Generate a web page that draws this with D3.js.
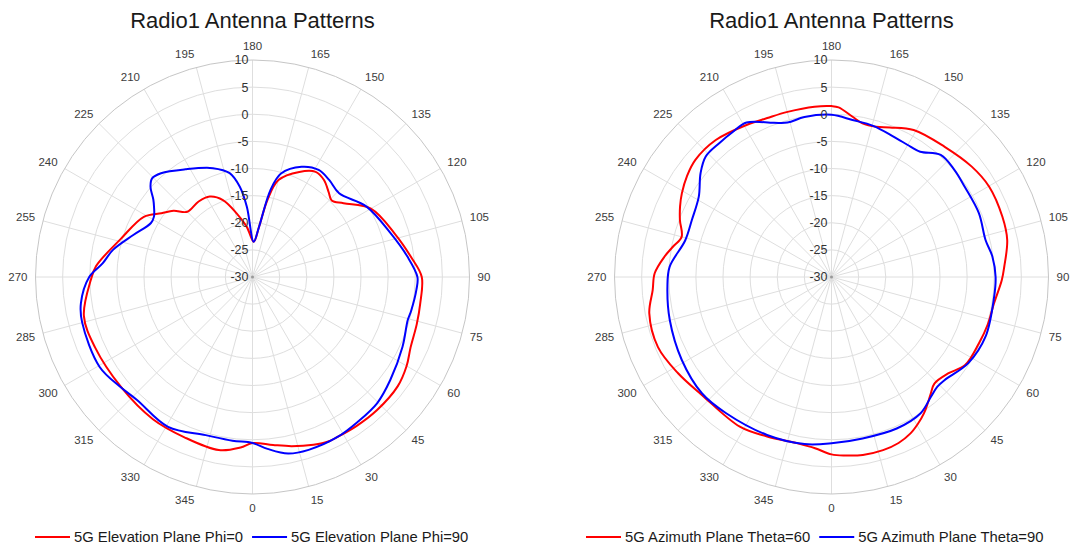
<!DOCTYPE html>
<html>
<head>
<meta charset="utf-8">
<script src="https://cdn.jsdelivr.net/npm/d3@7"></script>
<style>
  html, body { margin: 0; padding: 0; background: #ffffff; }
  svg { display: block; font-family: "Liberation Sans", Arial, sans-serif; }
</style>
</head>
<body>
<svg id="chart" width="1070" height="549"></svg>
<script>
// ---------------- DATA ----------------
const chartTitles = ["Radio1 Antenna Patterns", "Radio1 Antenna Patterns"];
const angleTicks = d3.range(0, 360, 15);
const radialTicks = [-30, -25, -20, -15, -10, -5, 0, 5, 10];

// Left chart: 5G Elevation Plane Phi=0 (red)
const elevPhi0Angles = [0, 7, 13, 20, 25, 28, 35, 43, 53, 60, 66, 74, 81, 90, 97, 107, 120, 129, 134, 138, 143.6, 149, 156, 165, 169, 172.6, 178, 186.5, 194, 201, 208, 215.5, 225, 230, 235, 241, 254, 266, 271, 283, 294, 310, 325, 337, 349, 356];
const elevPhi0Values = [0.6, 1.2, 2.0, 2.9, 3.4, 3.4, 3.5, 3.6, 3.5, 2.8, 1.9, 1.5, 1.3, 1.2, -0.5, -2.6, -4.8, -8.4, -9.7, -9.0, -7.8, -7.4, -8.8, -11.5, -15.5, -20.7, -23.5, -20.7, -17.9, -14.8, -13.2, -12.9, -13.0, -11.0, -9.5, -7.1, -4.7, -1.1, -0.2, 1.9, 1.8, 1.6, 2.0, 2.1, 2.5, 1.5];

// Left chart: 5G Elevation Plane Phi=90 (blue)
const elevPhi90Angles = [0, 5, 11.4, 18, 28, 36, 44.6, 53.3, 65, 74.5, 78, 85.5, 90, 97.5, 107.6, 121.7, 134, 141.7, 148.3, 156, 164.6, 168.3, 172.6, 178, 184.6, 188, 192.4, 200, 212, 221.4, 225.5, 228.5, 232, 234.5, 238.5, 242, 250.6, 259, 264.8, 270, 278.7, 285, 300.4, 309.7, 316.8, 330.6, 343.5, 353];
const elevPhi90Values = [0.6, 1.8, 3.2, 3.5, 3.4, 3.0, 2.7, 1.7, 0.5, -0.3, -0.1, 0.3, 0.4, -1.2, -3.3, -5.3, -7.8, -7.2, -6.8, -7.75, -10.2, -13.6, -20.7, -23.5, -17.0, -13.2, -10.4, -8.65, -6.6, -4.5, -4.05, -4.9, -6.8, -7.7, -8.7, -8.8, -6.7, -3.8, -2.25, 0.1, 2.0, 2.5, 2.7, 1.7, 1.1, 1.7, 0.4, 0.4];

// Right chart: 5G Azimuth Plane Theta=60 (red)
const azTheta60Angles = [0, 4.5, 10, 16.6, 22, 26.8, 30.5, 34.2, 37.5, 40.5, 44, 50.4, 56.6, 65.8, 73, 80.8, 89, 93.4, 101.9, 109.4, 119.8, 128.2, 139, 150.8, 158.7, 163.4, 168.6, 172.5, 177.6, 180, 185.7, 194.9, 202, 209.2, 220.2, 229.3, 235, 240.8, 245, 249.4, 255, 259, 263, 268.8, 274.2, 281.3, 292, 302, 312.4, 328.5, 338, 348.5, 354.5];
const azTheta60Values = [2.7, 3.0, 3.3, 3.3, 3.0, 2.3, 1.4, 0.35, -0.8, -1.8, -2.7, -2.1, -0.5, -0.2, 0.1, 0.35, 1.4, 1.9, 3.1, 3.4, 3.5, 2.9, 1.8, 1.05, -0.4, -1.1, -1.1, -0.2, 1.3, 1.5, 1.55, 1.5, 1.6, 2.1, 3.05, 3.1, 2.5, 1.6, 0.8, -0.15, -1.4, -0.3, 1.0, 2.6, 3.05, 4.25, 4.5, 3.4, 2.3, 2.35, 1.7, 1.3, 1.7];

// Right chart: 5G Azimuth Plane Theta=90 (blue)
const azTheta90Angles = [0, 10.9, 23.3, 33.2, 39.7, 44, 47.6, 57.8, 68.8, 83.1, 90, 97.2, 103.5, 113.4, 124, 131, 138.2, 144.7, 148.8, 156.2, 164.6, 172.4, 180, 189.6, 195.9, 200.5, 208.8, 214, 220, 226.3, 231.6, 238.8, 247.8, 256, 266.4, 273.4, 284.9, 299, 312, 322.3, 337.8, 350.8];
const azTheta90Values = [0.65, 0.3, 0.4, 0.0, -1.3, -1.9, -1.8, -0.2, 0.45, 0.2, 0.25, -0.1, -0.8, -0.4, -0.35, 0.05, 0.2, -1.7, -1.9, -1.7, -1.1, -0.8, -0.1, -0.1, -0.4, 0.35, 2.5, 2.35, 2.2, 2.1, 0.8, -1.4, -2.2, -2.2, -0.1, 0.3, 0.85, 1.55, 2.1, 1.75, 1.45, 1.2];

const leftLegend = ["5G Elevation Plane Phi=0", "5G Elevation Plane Phi=90"];
const rightLegend = ["5G Azimuth Plane Theta=60", "5G Azimuth Plane Theta=90"];
const seriesColors = ["#ff0000", "#0000ff"];

// ---------------- DRAW ----------------
const svg = d3.select("#chart");
const R = 217;
const rScale = d3.scaleLinear().domain([-30, 10]).range([0, R]);
const toRad = d => d * Math.PI / 180;

function zip(angles, values) {
  return angles.map((a, i) => ({ a, v: values[i] }));
}

function drawPolar(cx, cy, title, series, legendNames, legendX) {
  const g = svg.append("g").attr("transform", `translate(${cx},${cy})`);

  // title
  svg.append("text")
    .attr("x", cx).attr("y", 28)
    .attr("text-anchor", "middle")
    .attr("font-size", 22)
    .attr("fill", "#1a1a1a")
    .text(title);

  // spokes
  g.selectAll(".spoke").data(angleTicks).enter().append("line")
    .attr("x1", 0).attr("y1", 0)
    .attr("x2", d => R * Math.sin(toRad(d)))
    .attr("y2", d => R * Math.cos(toRad(d)))
    .attr("stroke", "#dedede").attr("stroke-width", 1);

  // rings
  g.selectAll(".ring").data(radialTicks.filter(t => t > -30)).enter().append("circle")
    .attr("r", d => rScale(d))
    .attr("fill", "none")
    .attr("stroke", d => d === 10 ? "#c6c6c6" : "#dedede")
    .attr("stroke-width", 1);

  // center dot
  g.append("circle").attr("r", 1.5).attr("fill", "#999");

  // series
  const line = d3.lineRadial()
    .angle(d => Math.PI - toRad(d.a))
    .radius(d => rScale(d.v))
    .curve(d3.curveCatmullRomClosed.alpha(0.5));

  series.forEach((s, i) => {
    g.append("path")
      .datum(s)
      .attr("d", line)
      .attr("fill", "none")
      .attr("stroke", seriesColors[i])
      .attr("stroke-width", 2);
  });

  // radial tick labels
  g.selectAll(".rlab").data(radialTicks).enter().append("text")
    .attr("x", -4)
    .attr("y", d => -rScale(d))
    .attr("dy", "0.35em")
    .attr("text-anchor", "end")
    .attr("font-size", 12.5)
    .attr("fill", "#333")
    .text(d => d);

  // angle labels
  g.selectAll(".alab").data(angleTicks).enter().append("text")
    .attr("x", d => (R + 8) * Math.sin(toRad(d)))
    .attr("y", d => (R + 8) * Math.cos(toRad(d)) + 6 * Math.cos(toRad(d)))
    .attr("dy", "0.35em")
    .attr("text-anchor", d => {
      const s = Math.sin(toRad(d));
      return s > 0.01 ? "start" : (s < -0.01 ? "end" : "middle");
    })
    .attr("font-size", 11.5)
    .attr("fill", "#3c3c3c")
    .text(d => d);

  // legend
  let x = legendX;
  const ly = 537;
  legendNames.forEach((name, i) => {
    svg.append("line")
      .attr("x1", x).attr("x2", x + 35)
      .attr("y1", ly).attr("y2", ly)
      .attr("stroke", seriesColors[i]).attr("stroke-width", 2);
    const t = svg.append("text")
      .attr("x", x + 39).attr("y", ly)
      .attr("dy", "0.35em")
      .attr("font-size", 14.8)
      .attr("fill", "#1a1a1a")
      .text(name);
    x = x + 39 + t.node().getComputedTextLength() + 9;
  });
}

drawPolar(252.5, 277, chartTitles[0],
  [zip(elevPhi0Angles, elevPhi0Values), zip(elevPhi90Angles, elevPhi90Values)],
  leftLegend, 35);
drawPolar(831.5, 277, chartTitles[1],
  [zip(azTheta60Angles, azTheta60Values), zip(azTheta90Angles, azTheta90Values)],
  rightLegend, 586);
</script>
</body>
</html>
